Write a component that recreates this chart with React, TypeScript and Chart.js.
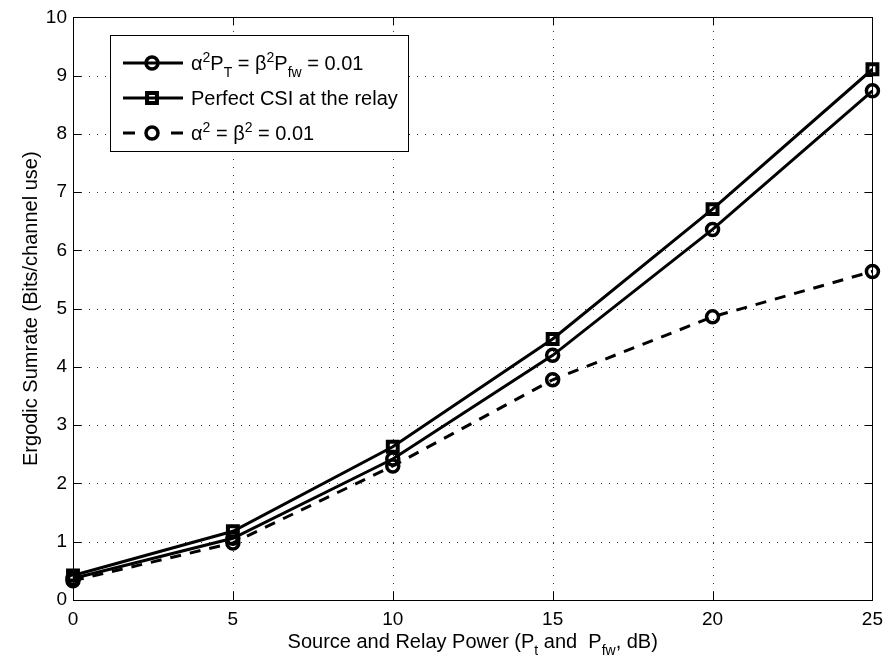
import { useEffect, useRef } from 'react';
import { Chart, registerables } from 'chart.js';

Chart.register(...registerables);

const powerDb = [0, 5, 10, 15, 20, 25];
const sumrateScaledCsi = [0.37, 1.06, 2.42, 4.2, 6.36, 8.74];
const sumratePerfectCsi = [0.42, 1.18, 2.63, 4.48, 6.71, 9.11];
const sumrateFixedCsi = [0.33, 0.98, 2.3, 3.78, 4.86, 5.64];
const xTicks = [0, 5, 10, 15, 20, 25];
const yTicks = [0, 1, 2, 3, 4, 5, 6, 7, 8, 9, 10];

const yTitle = 'Ergodic Sumrate (Bits/channel use)';
type Seg = { t: string; m: 'n' | 'sup' | 'sub' };
const xTitle: Seg[] = [
  { t: 'Source and Relay Power (P', m: 'n' },
  { t: 't', m: 'sub' },
  { t: ' and  P', m: 'n' },
  { t: 'fw', m: 'sub' },
  { t: ', dB)', m: 'n' },
];
const legendLabels: Seg[][] = [
  [
    { t: 'α', m: 'n' }, { t: '2', m: 'sup' }, { t: 'P', m: 'n' }, { t: 'T', m: 'sub' },
    { t: ' = β', m: 'n' }, { t: '2', m: 'sup' }, { t: 'P', m: 'n' }, { t: 'fw', m: 'sub' },
    { t: ' = 0.01', m: 'n' },
  ],
  [{ t: 'Perfect CSI at the relay', m: 'n' }],
  [
    { t: 'α', m: 'n' }, { t: '2', m: 'sup' }, { t: ' = β', m: 'n' }, { t: '2', m: 'sup' },
    { t: ' = 0.01', m: 'n' },
  ],
];

const FAM = '"Liberation Sans", Arial, Helvetica, sans-serif';
const CIRCLE_R = 6;
const RECT_R = 7;
const MARKER_W = 3.5;

function segFont(m: string, size: number) {
  return `${m === 'n' ? size : Math.round(size * 0.68)}px ${FAM}`;
}

function measureRich(ctx: CanvasRenderingContext2D, segs: Seg[], size: number) {
  let w = 0;
  for (const s of segs) {
    ctx.font = segFont(s.m, size);
    w += ctx.measureText(s.t).width;
  }
  return w;
}

function drawRich(ctx: CanvasRenderingContext2D, segs: Seg[], x: number, y: number, size: number, center: boolean) {
  const total = measureRich(ctx, segs, size);
  let cx = center ? x - total / 2 : x;
  ctx.textAlign = 'left';
  ctx.textBaseline = 'alphabetic';
  for (const s of segs) {
    ctx.font = segFont(s.m, size);
    const dy = s.m === 'sup' ? -0.42 * size : s.m === 'sub' ? 0.33 * size : 0;
    ctx.fillText(s.t, cx, y + dy);
    cx += ctx.measureText(s.t).width;
  }
  return total;
}

function drawMarker(ctx: CanvasRenderingContext2D, kind: string, x: number, y: number) {
  ctx.save();
  ctx.setLineDash([]);
  ctx.lineWidth = kind === 'circle' ? MARKER_W : 4;
  ctx.strokeStyle = '#000';
  ctx.beginPath();
  if (kind === 'circle') {
    ctx.arc(x, y, CIRCLE_R, 0, Math.PI * 2);
  } else {
    const h = RECT_R * Math.SQRT1_2;
    ctx.rect(x - h, y - h, 2 * h, 2 * h);
  }
  ctx.stroke();
  ctx.restore();
}

const framePlugin = {
  id: 'matlabFrame',
  beforeDatasetsDraw(chart: any) {
    const { ctx, chartArea: a, scales } = chart;
    const xs = scales.x, ys = scales.y;
    ctx.save();
    ctx.strokeStyle = '#333';
    ctx.lineWidth = 1;
    ctx.setLineDash([1, 7]);
    for (const v of xTicks) {
      const px = Math.round(xs.getPixelForValue(v)) + 0.5;
      if (v === xTicks[0] || v === xTicks[xTicks.length - 1]) continue;
      ctx.beginPath();
      ctx.moveTo(px, a.bottom);
      ctx.lineTo(px, a.top);
      ctx.stroke();
    }
    for (const v of yTicks) {
      const py = Math.round(ys.getPixelForValue(v)) + 0.5;
      if (v === yTicks[0] || v === yTicks[yTicks.length - 1]) continue;
      ctx.beginPath();
      ctx.moveTo(a.left, py);
      ctx.lineTo(a.right, py);
      ctx.stroke();
    }
    ctx.setLineDash([]);
    ctx.strokeStyle = '#000';
    const tl = 8;
    for (const v of xTicks) {
      const px = Math.round(xs.getPixelForValue(v)) + 0.5;
      ctx.beginPath();
      ctx.moveTo(px, a.bottom);
      ctx.lineTo(px, a.bottom - tl);
      ctx.moveTo(px, a.top);
      ctx.lineTo(px, a.top + tl);
      ctx.stroke();
    }
    for (const v of yTicks) {
      const py = Math.round(ys.getPixelForValue(v)) + 0.5;
      ctx.beginPath();
      ctx.moveTo(a.left, py);
      ctx.lineTo(a.left + tl, py);
      ctx.moveTo(a.right, py);
      ctx.lineTo(a.right - tl, py);
      ctx.stroke();
    }
    ctx.lineWidth = 1;
    ctx.strokeRect(Math.round(a.left) + 0.5, Math.round(a.top) + 0.5, Math.round(a.right - a.left), Math.round(a.bottom - a.top));
    ctx.restore();
  },
  afterDraw(chart: any) {
    const { ctx, chartArea: a } = chart;
    ctx.save();
    ctx.fillStyle = '#000';
    drawRich(ctx, xTitle, (a.left + a.right) / 2, 648, 20, true);
    ctx.save();
    ctx.translate(31, (a.top + a.bottom) / 2);
    ctx.rotate(-Math.PI / 2);
    ctx.font = `20px ${FAM}`;
    ctx.textAlign = 'center';
    ctx.textBaseline = 'middle';
    ctx.fillText(yTitle, 0, 0);
    ctx.restore();

    const size = 20;
    const textX = 191;
    let maxW = 0;
    for (const l of legendLabels) maxW = Math.max(maxW, measureRich(ctx, l, size));
    const bx = 110.5, by = 35.5, bw = Math.round(textX + maxW + 10 - 110), bh = 116;
    ctx.fillStyle = '#fff';
    ctx.fillRect(bx, by, bw, bh);
    ctx.strokeStyle = '#000';
    ctx.lineWidth = 1;
    ctx.strokeRect(bx, by, bw, bh);
    ctx.fillStyle = '#000';
    const baselines = [70, 105, 140];
    const markers = ['circle', 'rect', 'circle'];
    const dashed = [false, false, true];
    baselines.forEach((b, i) => {
      const my = b - 7;
      ctx.save();
      ctx.lineWidth = 3;
      ctx.strokeStyle = '#000';
      ctx.beginPath();
      if (dashed[i]) {
        ctx.moveTo(123, my); ctx.lineTo(135, my);
        ctx.moveTo(171, my); ctx.lineTo(183, my);
      } else {
        ctx.moveTo(123, my); ctx.lineTo(183, my);
      }
      ctx.stroke();
      ctx.restore();
      drawMarker(ctx, markers[i], 152, my);
      drawRich(ctx, legendLabels[i], textX, b, size, false);
    });
    ctx.restore();
  },
};

function series(label: string, values: number[], style: 'circle' | 'rect', dash: number[]) {
  return {
    label,
    data: powerDb.map((x, i) => ({ x, y: values[i] })),
    borderColor: '#000',
    borderWidth: 3,
    borderDash: dash,
    pointStyle: style,
    pointRadius: style === 'circle' ? CIRCLE_R : RECT_R,
    pointBorderWidth: style === 'circle' ? MARKER_W : 4,
    pointBackgroundColor: 'rgba(0,0,0,0)',
    pointBorderColor: '#000',
    tension: 0,
    clip: false as any,
  };
}

export default function App() {
  const ref = useRef<HTMLCanvasElement | null>(null);
  useEffect(() => {
    document.body.style.margin = '0';
    const canvas = ref.current!;
    const chart = new Chart(canvas, {
      type: 'line',
      data: {
        datasets: [
          series('α²P_T = β²P_fw = 0.01', sumrateScaledCsi, 'circle', []),
          series('Perfect CSI at the relay', sumratePerfectCsi, 'rect', []),
          series('α² = β² = 0.01', sumrateFixedCsi, 'circle', [11, 9]),
        ] as any,
      },
      options: {
        responsive: false,
        animation: false,
        events: [],
        layout: { padding: { left: 0, top: 16, right: 14, bottom: 0 } },
        plugins: { legend: { display: false }, tooltip: { enabled: false } },
        scales: {
          x: {
            type: 'linear',
            min: 0,
            max: 25,
            afterBuildTicks: (s: any) => { s.ticks = xTicks.map((v) => ({ value: v })); },
            afterFit: (s: any) => { s.height = 65; },
            grid: { display: false, drawTicks: false },
            border: { display: false },
            ticks: { color: '#000', font: { family: FAM, size: 19 }, padding: 8, maxRotation: 0 },
          },
          y: {
            type: 'linear',
            min: 0,
            max: 10,
            afterBuildTicks: (s: any) => { s.ticks = yTicks.map((v) => ({ value: v })); },
            afterFit: (s: any) => { s.width = 73; },
            grid: { display: false, drawTicks: false },
            border: { display: false },
            ticks: { color: '#000', font: { family: FAM, size: 19 }, padding: 6 },
          },
        },
      },
      plugins: [framePlugin],
    });
    return () => chart.destroy();
  }, []);
  return (
    <div style={{ width: 891, height: 665, background: '#fff' }}>
      <canvas ref={ref} width={891} height={665} style={{ display: 'block' }} />
    </div>
  );
}
